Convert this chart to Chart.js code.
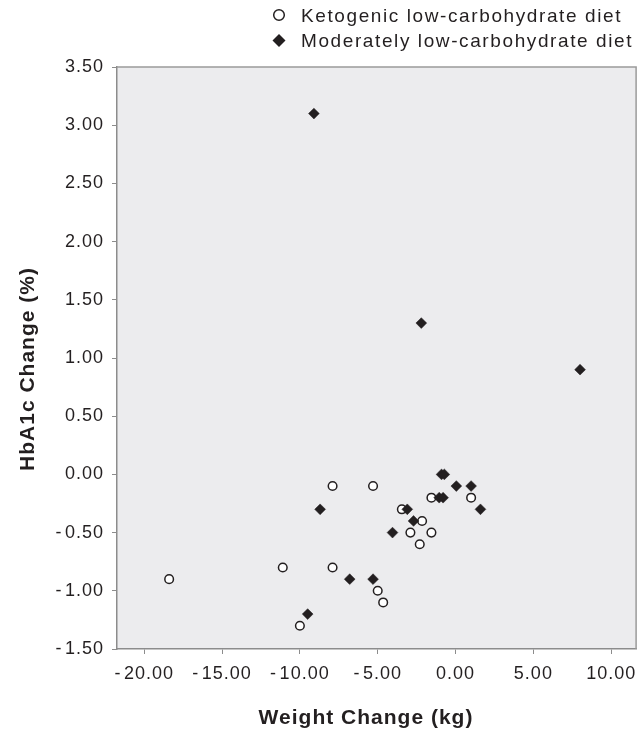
<!DOCTYPE html>
<html><head><meta charset="utf-8">
<script src="https://cdn.jsdelivr.net/npm/chart.js@4.4.1/dist/chart.umd.min.js"></script>
<style>html,body{margin:0;padding:0;background:#fff}#wrap{width:642px;height:731px;position:relative}</style>
</head><body><div id="wrap"><canvas id="c"></canvas></div>
<script>
const seriesNames = ['Ketogenic low-carbohydrate diet', 'Moderately low-carbohydrate diet'];
const ketoWeight = [-18.4, -11.1, -10.0, -7.9, -7.9, -5.3, -5.0, -4.65, -3.45, -2.9, -2.3, -2.15, -1.55, -1.55, 1.0];
const ketoHbA1c  = [-0.9, -0.8, -1.3, -0.1, -0.8, -0.1, -1.0, -1.1, -0.3, -0.5, -0.6, -0.4, -0.2, -0.5, -0.2];
const modWeight  = [-9.1, -9.5, -8.7, -6.8, -5.3, -4.05, -3.1, -2.7, -2.2, -1.05, -0.9, -0.8, -0.72, 0.05, 1.0, 1.6, 8.0];
const modHbA1c   = [3.1, -1.2, -0.3, -0.9, -0.9, -0.5, -0.3, -0.4, 1.3, -0.2, 0.0, -0.2, 0.0, -0.1, -0.1, -0.3, 0.9];
const xTicks = [-20, -15, -10, -5, 0, 5, 10];
const yTicks = [-1.5, -1, -0.5, 0, 0.5, 1, 1.5, 2, 2.5, 3, 3.5];
const xTitle = 'Weight Change (kg)';
const yTitle = 'HbA1c Change (%)';

const INK = '#231f20';
const FONT = '"Liberation Sans", Arial, Helvetica, sans-serif';
const fmt = v => (v < 0 ? '-\u200A' + Math.abs(v).toFixed(2) : v.toFixed(2));
const toPts = (xs, ys) => xs.map((x, i) => ({x: x, y: ys[i]}));

const framePlugin = {
  id: 'frame',
  beforeUpdate(chart) { chart.ctx.letterSpacing = '1px'; },
  beforeDraw(chart) {
    const {ctx, chartArea: a} = chart;
    ctx.save();
    ctx.fillStyle = '#ececee';
    ctx.fillRect(a.left, a.top, a.right - a.left, a.bottom - a.top);
    ctx.restore();
    ctx.letterSpacing = '1px';
  },
  afterDraw(chart) {
    const {ctx, chartArea: a} = chart;
    ctx.save();
    ctx.strokeStyle = '#9a9a9a';
    ctx.lineWidth = 1.5;
    ctx.beginPath();
    ctx.moveTo(a.left, a.top); ctx.lineTo(a.right, a.top); ctx.lineTo(a.right, a.bottom);
    ctx.stroke();
    // axis titles
    ctx.fillStyle = INK;
    ctx.font = 'bold 21px ' + FONT;
    ctx.letterSpacing = '1px';
    ctx.textAlign = 'center';
    ctx.textBaseline = 'middle';
    ctx.fillText(xTitle, 366, 718);
    ctx.save();
    ctx.translate(28, 369);
    ctx.rotate(-Math.PI / 2);
    ctx.fillText(yTitle, 0, 0);
    ctx.restore();
    // legend
    const ds = chart.data.datasets;
    const mx = 279, tx = 301, rows = [15, 40.5];
    ctx.font = '19px ' + FONT;
    ctx.letterSpacing = '1.6px';
    ctx.textAlign = 'left';
    ctx.textBaseline = 'alphabetic';
    ctx.beginPath(); ctx.arc(mx, rows[0], 5.3, 0, Math.PI * 2);
    ctx.fillStyle = '#fff'; ctx.fill();
    ctx.lineWidth = 1.5; ctx.strokeStyle = INK; ctx.stroke();
    ctx.beginPath();
    ctx.moveTo(mx, rows[1] - 6.5); ctx.lineTo(mx + 6.5, rows[1]); ctx.lineTo(mx, rows[1] + 6.5); ctx.lineTo(mx - 6.5, rows[1]);
    ctx.closePath(); ctx.fillStyle = INK; ctx.fill();
    ctx.fillStyle = INK;
    ctx.fillText(ds[0].label, tx, rows[0] + 6.5);
    ctx.fillText(ds[1].label, tx, rows[1] + 6.8);
    ctx.restore();
  }
};

new Chart(document.getElementById('c'), {
  type: 'scatter',
  data: {
    datasets: [
      {label: seriesNames[0], data: toPts(ketoWeight, ketoHbA1c), pointStyle: 'circle', pointRadius: 4.3,
       pointBackgroundColor: '#ffffff', pointBorderColor: INK, pointBorderWidth: 1.5, order: 2},
      {label: seriesNames[1], data: toPts(modWeight, modHbA1c), pointStyle: 'rectRot', pointRadius: 5.4,
       pointBackgroundColor: INK, pointBorderColor: INK, pointBorderWidth: 0.5, order: 1}
    ]
  },
  options: {
    responsive: true, maintainAspectRatio: false, animation: false,
    layout: {padding: {top: 67, right: 3.7, left: 0, bottom: 0}},
    plugins: {legend: {display: false}, tooltip: {enabled: false}},
    scales: {
      x: {
        type: 'linear', min: -21.75, max: 11.6,
        afterBuildTicks: s => { s.ticks = xTicks.map(v => ({value: v})); },
        afterFit: s => { s.height = 82; s.paddingLeft = 0; s.paddingRight = 0; },
        grid: {drawOnChartArea: false, drawTicks: true, tickLength: 5, color: '#8c8c8c'},
        border: {display: true, color: '#8c8c8c', width: 1.5},
        ticks: {callback: v => fmt(v), color: INK, font: {family: FONT, size: 18}, padding: 9, maxRotation: 0, autoSkip: false},
        title: {display: false, text: xTitle}
      },
      y: {
        type: 'linear', min: -1.5, max: 3.5,
        afterBuildTicks: s => { s.ticks = yTicks.map(v => ({value: v})); },
        afterFit: s => { s.width = 117; },
        grid: {drawOnChartArea: false, drawTicks: true, tickLength: 5, color: '#8c8c8c'},
        border: {display: true, color: '#8c8c8c', width: 1.5},
        ticks: {callback: v => fmt(v), color: INK, font: {family: FONT, size: 18}, padding: 8, autoSkip: false},
        title: {display: false, text: yTitle}
      }
    }
  },
  plugins: [framePlugin]
});
</script></body></html>
